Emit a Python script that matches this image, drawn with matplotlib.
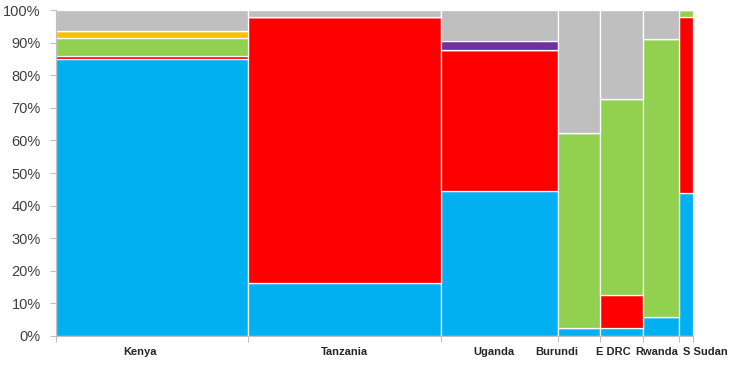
import numpy as np
import matplotlib.pyplot as plt

# column widths (share of total, %) and per-country segment shares (%)
countries = ['Kenya', 'Tanzania', 'Uganda', 'Burundi', 'E DRC', 'Rwanda', 'S Sudan']
widths = [30.2, 30.2, 18.4, 6.6, 6.7, 5.7, 2.2]

blue = [85.0, 16.2, 44.5, 2.5, 2.5, 5.8, 43.8]
red = [1.0, 81.7, 43.3, 0.0, 10.1, 0.0, 54.0]
green = [5.5, 0.0, 0.0, 59.8, 60.1, 85.2, 2.2]
orange = [2.1, 0.0, 0.0, 0.0, 0.0, 0.0, 0.0]
purple = [0.0, 0.0, 2.8, 0.0, 0.0, 0.0, 0.0]
grey = [6.4, 2.1, 9.4, 37.7, 27.3, 9.0, 0.0]

series = [blue, red, green, orange, purple, grey]
colors = ['#00B0F0', '#FF0000', '#92D050', '#FFC000', '#7030A0', '#BFBFBF']

# label nudges in points (labels of narrow columns are pushed aside)
label_shift = [-9, 0, -4, -16, -6, -3, 14]

plt.rcParams['font.family'] = ['Liberation Sans', 'DejaVu Sans']

fig = plt.figure(figsize=(7.36, 3.65), dpi=100)
ax = fig.add_axes([0.076, 0.0795, 0.8656, 0.893])

w = np.array(widths)
lefts = np.concatenate([[0], np.cumsum(w)[:-1]])
bottom = np.zeros(len(countries))
for vals, c in zip(series, colors):
    v = np.array(vals)
    ax.bar(lefts, v, width=w, bottom=bottom, align='edge', color=c,
           edgecolor='white', linewidth=0.9)
    bottom += v

ax.set_xlim(0, w.sum())
ax.set_ylim(0, 100)
ax.set_yticks(np.arange(0, 101, 10))
ax.set_yticklabels([f'{t}%' for t in range(0, 101, 10)], fontsize=10.5, color='#404040')

ax.set_xticks(np.concatenate([lefts, [w.sum()]]))
ax.set_xticklabels([])
ax.tick_params(axis='x', length=4, color='#BFBFBF', width=0.8)
ax.tick_params(axis='y', length=4, color='#BFBFBF', width=0.8, pad=7)

for name, l, wd, s in zip(countries, lefts, w, label_shift):
    ax.annotate(name, xy=(l + wd / 2, 0), xycoords=('data', 'axes fraction'),
                xytext=(s, -8), textcoords='offset points', ha='center', va='top',
                fontsize=8, fontweight='bold', color='#262626')

for sp in ['top', 'right']:
    ax.spines[sp].set_visible(False)
for sp in ['left', 'bottom']:
    ax.spines[sp].set_color('#BFBFBF')
    ax.spines[sp].set_linewidth(0.8)

fig.savefig('out.png', dpi=100)
